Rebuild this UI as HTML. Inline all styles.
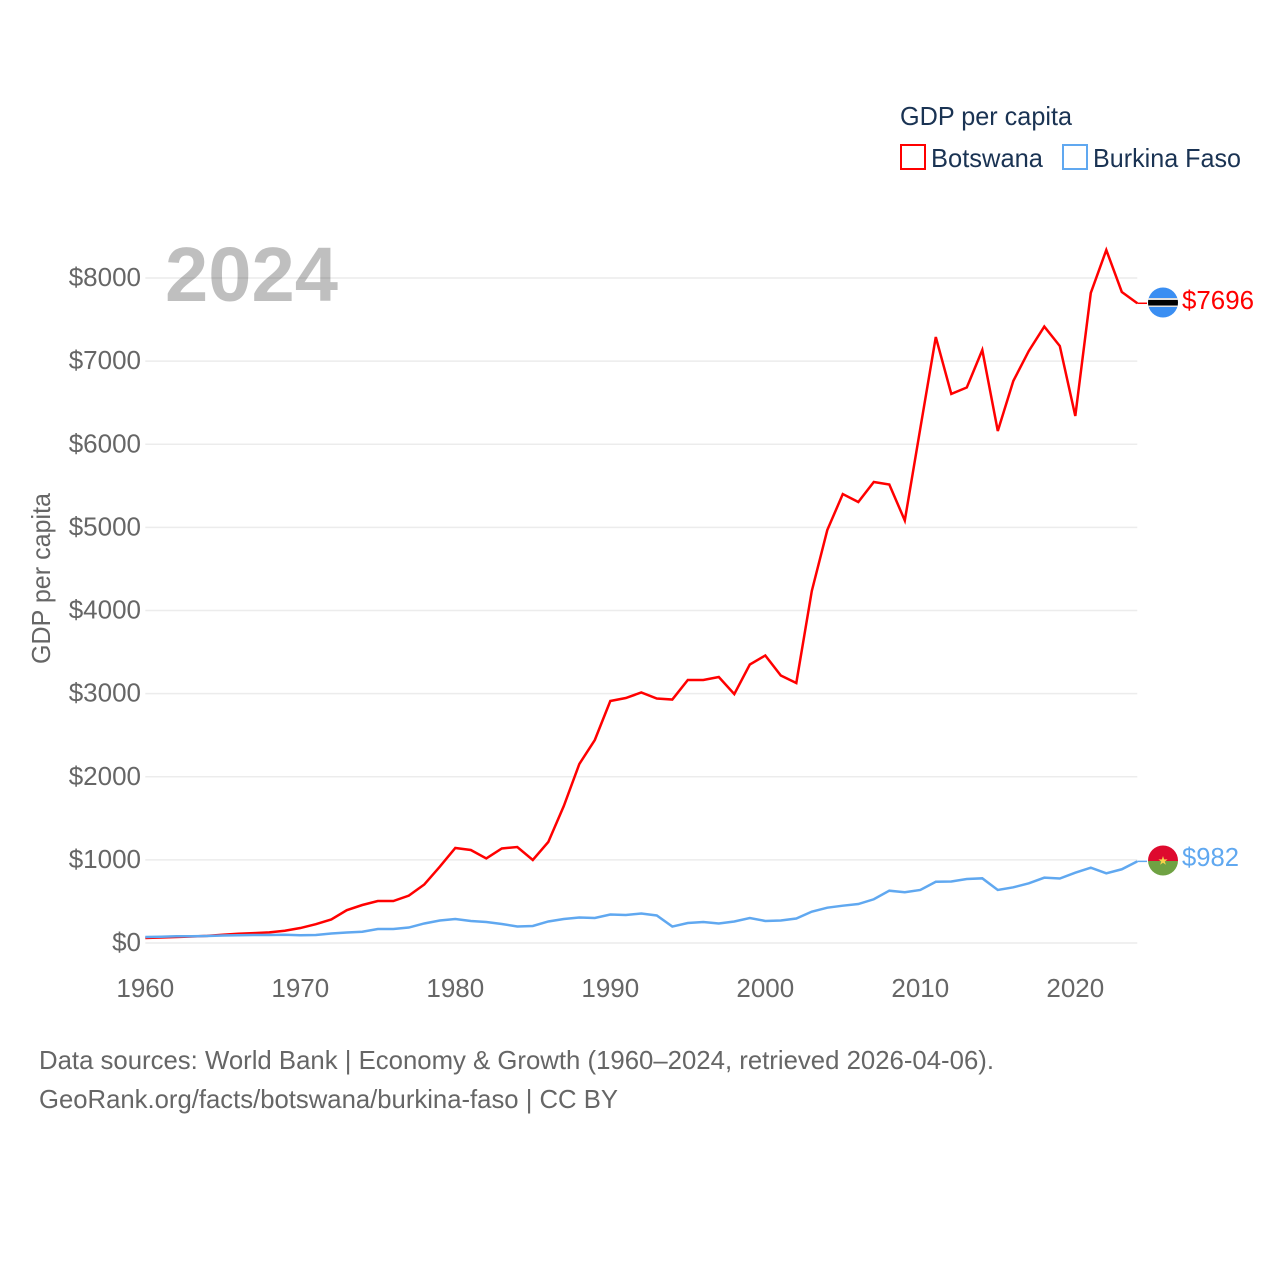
<!DOCTYPE html>
<html lang="en">
<head>
<meta charset="utf-8">
<title>GDP per capita: Botswana and Burkina Faso</title>
<style>
  html, body { margin: 0; padding: 0; background: #fff; }
  svg { display: block; }
  text { font-family: "Liberation Sans", sans-serif; }
</style>
</head>
<body>
<svg id="chart" xmlns="http://www.w3.org/2000/svg" width="1280" height="1280" viewBox="0 0 1280 1280">
  <rect x="0" y="0" width="1280" height="1280" fill="#ffffff"/>
  <g id="grid"></g>
  <g id="y-ticks"></g>
  <g id="x-ticks"></g>

  <text x="165" y="301" font-size="77" font-weight="700" fill="#000000" fill-opacity="0.25" textLength="173" lengthAdjust="spacingAndGlyphs">2024</text>
  <text transform="translate(50 664) rotate(-90)" font-size="25.6" fill="#666666" textLength="171" lengthAdjust="spacingAndGlyphs">GDP per capita</text>

  <g id="series"></g>

  <g>
    <clipPath id="clip-bw"><circle cx="1163" cy="302.5" r="15"/></clipPath>
    <g clip-path="url(#clip-bw)">
      <rect x="1148" y="287" width="30" height="31" fill="#3a8ef2"/>
      <rect x="1148" y="298" width="30" height="9" fill="#e0e0e0"/>
      <rect x="1148" y="300" width="30" height="5.5" fill="#000000"/>
    </g>
  </g>
  <g>
    <clipPath id="clip-bf"><circle cx="1163" cy="860.5" r="15"/></clipPath>
    <g clip-path="url(#clip-bf)">
      <rect x="1148" y="845" width="30" height="16" fill="#de0a2e"/>
      <rect x="1148" y="861" width="30" height="15" fill="#6fa243"/>
    </g>
    <polygon fill="#f7d24a" points="1163,856 1164.1,859.4 1167.6,859.4 1164.8,861.5 1165.9,864.8 1163,862.8 1160.1,864.8 1161.2,861.5 1158.4,859.4 1161.9,859.4"/>
  </g>

  <text x="1182" y="309" font-size="25.6" fill="#ff0000" textLength="72" lengthAdjust="spacingAndGlyphs">$7696</text>
  <text x="1182" y="866" font-size="25.6" fill="#60a8f0" textLength="57" lengthAdjust="spacingAndGlyphs">$982</text>

  <g>
    <text x="900" y="125" font-size="26" fill="#1a3353" textLength="172" lengthAdjust="spacingAndGlyphs">GDP per capita</text>
    <g>
      <rect x="901" y="145" width="24" height="24" fill="none" stroke="#ff0000" stroke-width="2"/>
      <text x="931" y="167" font-size="26" fill="#1a3353" textLength="112" lengthAdjust="spacingAndGlyphs">Botswana</text>
    </g>
    <g>
      <rect x="1063" y="145" width="24" height="24" fill="none" stroke="#60a8f0" stroke-width="2"/>
      <text x="1093" y="167" font-size="26" fill="#1a3353" textLength="148" lengthAdjust="spacingAndGlyphs">Burkina Faso</text>
    </g>
  </g>

  <text x="39" y="1069" font-size="25.6" fill="#666666" textLength="955" lengthAdjust="spacingAndGlyphs">Data sources: World Bank | Economy &amp; Growth (1960–2024, retrieved 2026-04-06).</text>
  <text x="39" y="1108" font-size="25.6" fill="#666666" textLength="579" lengthAdjust="spacingAndGlyphs">GeoRank.org/facts/botswana/burkina-faso | CC BY</text>
</svg>

<script>
const startYear = 1960;
const yTickValues = [0, 1000, 2000, 3000, 4000, 5000, 6000, 7000, 8000];
const yTickLabels = ["$0", "$1000", "$2000", "$3000", "$4000", "$5000", "$6000", "$7000", "$8000"];
const xTickYears = [1960, 1970, 1980, 1990, 2000, 2010, 2020];
const xTickLabels = ["1960", "1970", "1980", "1990", "2000", "2010", "2020"];
const botswanaValues = [
  60, 66, 72, 78, 86, 100, 111, 119, 128, 147,
  180, 226, 283, 395, 457, 505, 505, 570, 704, 918,
  1143, 1119, 1017, 1137, 1155, 999, 1215, 1648, 2153, 2442,
  2911, 2947, 3014, 2941, 2929, 3164, 3164, 3200, 2995, 3350,
  3459, 3218, 3128, 4235, 4968, 5401, 5305, 5546, 5516, 5083,
  6190, 7290, 6605, 6683, 7134, 6159, 6761, 7122, 7416, 7182,
  6340, 7820, 8337, 7832, 7696
];
const burkinaFasoValues = [
  72, 75, 81, 81, 84, 90, 93, 96, 96, 99,
  93, 96, 114, 126, 136, 168, 168, 186, 235, 271,
  289, 265, 253, 229, 198, 205, 259, 289, 307, 301,
  343, 337, 355, 331, 198, 241, 253, 235, 259, 301,
  265, 271, 295, 377, 425, 449, 469, 526, 629, 610,
  638, 737, 740, 770, 778, 638, 670, 718, 786, 776,
  846, 906, 838, 887, 982
];

function xScale(year) {
  return 145.3 + (year - 1960) * 15.5;
}
function yScale(value) {
  return 943 - value * 0.083125;
}

const NS = "http://www.w3.org/2000/svg";
const gridGroup = document.getElementById("grid");
const yTickGroup = document.getElementById("y-ticks");
const xTickGroup = document.getElementById("x-ticks");
const seriesGroup = document.getElementById("series");

yTickValues.forEach(function (value, i) {
  const line = document.createElementNS(NS, "line");
  line.setAttribute("x1", xScale(1960));
  line.setAttribute("x2", xScale(2024));
  line.setAttribute("y1", yScale(value));
  line.setAttribute("y2", yScale(value));
  line.setAttribute("stroke", "#ececec");
  line.setAttribute("stroke-width", "1.5");
  
  
  gridGroup.appendChild(line);

  const label = document.createElementNS(NS, "text");
  label.setAttribute("x", 141);
  label.setAttribute("y", yScale(value) + 8);
  label.setAttribute("text-anchor", "end");
  label.setAttribute("font-size", "26");
  label.setAttribute("fill", "#666666");
  label.textContent = yTickLabels[i];
  
  
  yTickGroup.appendChild(label);
});

xTickYears.forEach(function (year, i) {
  const label = document.createElementNS(NS, "text");
  label.setAttribute("x", xScale(year));
  label.setAttribute("y", 997);
  label.setAttribute("text-anchor", "middle");
  label.setAttribute("font-size", "26");
  label.setAttribute("fill", "#666666");
  label.textContent = xTickLabels[i];
  
  
  xTickGroup.appendChild(label);
});

function linePoints(values) {
  return values.map(function (value, i) {
    return xScale(startYear + i).toFixed(2) + "," + yScale(value).toFixed(2);
  }).join(" ");
}

function drawConnector(values, color) {
  const last = values[values.length - 1];
  const connector = document.createElementNS(NS, "line");
  connector.setAttribute("x1", xScale(startYear + values.length - 1));
  connector.setAttribute("x2", 1147);
  connector.setAttribute("y1", yScale(last));
  connector.setAttribute("y2", yScale(last));
  connector.setAttribute("stroke", color);
  connector.setAttribute("stroke-width", "1.5");
  
  
  seriesGroup.appendChild(connector);
}

const botswanaLine = document.createElementNS(NS, "polyline");
botswanaLine.setAttribute("points", linePoints(botswanaValues));
botswanaLine.setAttribute("fill", "none");
botswanaLine.setAttribute("stroke", "#ff0000");
botswanaLine.setAttribute("stroke-width", "2.5");
botswanaLine.setAttribute("stroke-linejoin", "miter");


seriesGroup.appendChild(botswanaLine);
drawConnector(botswanaValues, "#ff0000");

const burkinaFasoLine = document.createElementNS(NS, "polyline");
burkinaFasoLine.setAttribute("points", linePoints(burkinaFasoValues));
burkinaFasoLine.setAttribute("fill", "none");
burkinaFasoLine.setAttribute("stroke", "#60a8f0");
burkinaFasoLine.setAttribute("stroke-width", "2.5");
burkinaFasoLine.setAttribute("stroke-linejoin", "miter");


seriesGroup.appendChild(burkinaFasoLine);
drawConnector(burkinaFasoValues, "#60a8f0");
</script>
</body>
</html>
